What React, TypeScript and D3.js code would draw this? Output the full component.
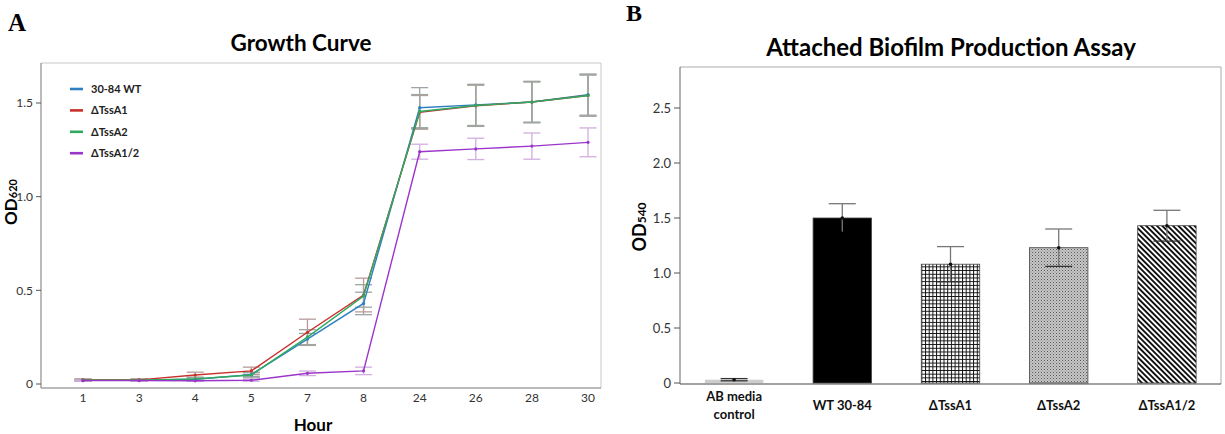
import React from "react";
import * as d3 from "d3";

// ---------- Panel A: growth curve data ----------
const hours = ["1", "3", "4", "5", "7", "8", "24", "26", "28", "30"];
const wt = [0.02, 0.02, 0.025, 0.05, 0.24, 0.43, 1.475, 1.49, 1.505, 1.545];
const wtErr = [0.005, 0.005, 0.008, 0.01, 0.03, 0.06, 0.107, 0.11, 0.107, 0.11];
const tssA1 = [0.022, 0.022, 0.048, 0.07, 0.276, 0.475, 1.45, 1.485, 1.505, 1.54];
const tssA1Err = [0.005, 0.005, 0.015, 0.02, 0.07, 0.09, 0.09, 0.11, 0.11, 0.11];
const tssA2 = [0.02, 0.02, 0.027, 0.048, 0.25, 0.47, 1.455, 1.487, 1.505, 1.54];
const tssA2Err = [0.005, 0.005, 0.01, 0.015, 0.04, 0.06, 0.09, 0.11, 0.11, 0.11];
const tssA12 = [0.018, 0.018, 0.017, 0.02, 0.057, 0.07, 1.24, 1.255, 1.27, 1.29];
const tssA12Err = [0.003, 0.003, 0.003, 0.005, 0.012, 0.02, 0.04, 0.057, 0.07, 0.077];
const growthTicks = [0, 0.5, 1.0, 1.5];
const growthTickLabels = ["0", "0.5", "1.0", "1.5"];

// ---------- Panel B: biofilm data ----------
const bioCats = ["AB media control", "WT 30-84", "ΔTssA1", "ΔTssA2", "ΔTssA1/2"];
const bioVals = [0.03, 1.5, 1.08, 1.23, 1.43];
const bioErr = [0.01, 0.13, 0.16, 0.17, 0.14];
const bioTicks = [0, 0.5, 1.0, 1.5, 2.0, 2.5];
const bioTickLabels = ["0", "0.5", "1.0", "1.5", "2.0", "2.5"];

const series = [
  { name: "30-84 WT", vals: wt, err: wtErr, color: "#2f7fc1", errColor: "#9ea3aa" },
  { name: "ΔTssA1", vals: tssA1, err: tssA1Err, color: "#c9302c", errColor: "#b99a9a" },
  { name: "ΔTssA2", vals: tssA2, err: tssA2Err, color: "#2fa95f", errColor: "#9aa89e" },
  { name: "ΔTssA1/2", vals: tssA12, err: tssA12Err, color: "#9b35c9", errColor: "#d2aede" },
];

const FONT = "Lato, 'Open Sans', sans-serif";

export default function App() {
  // Panel A scales
  const ax = d3.scalePoint<string>().domain(hours).range([83, 588]);
  const ay = d3.scaleLinear().domain([0, 1.5]).range([384, 103]);
  const line = d3
    .line<number>()
    .x((_, i) => ax(hours[i]) as number)
    .y((d) => ay(d));

  // Panel B scales
  const bx = d3.scaleBand<string>().domain(bioCats).range([680, 1221]).paddingInner(0.46).paddingOuter(0.23);
  const by = d3.scaleLinear().domain([0, 2.5]).range([383, 108]);
  const fills = ["#cdcdcd", "#000000", "url(#gridPat)", "url(#dotPat)", "url(#diagPat)"];

  const capA = 8.5;
  const capB = 13.5;

  return (
    <svg
      width={1225}
      height={434}
      style={{ position: "absolute", left: 0, top: 0, background: "#fff" }}
      fontFamily={FONT}
    >
      <defs>
        <pattern id="gridPat" patternUnits="userSpaceOnUse" width={3.7} height={3.7}>
          <rect width={3.7} height={3.7} fill="#fff" />
          <path d="M0 0.5 H3.7 M0.5 0 V3.7" stroke="#111" strokeWidth={1} />
        </pattern>
        <pattern id="dotPat" patternUnits="userSpaceOnUse" width={3} height={3}>
          <rect width={3} height={3} fill="#c8c8c8" />
          <rect x={0} y={0} width={1} height={1} fill="#555" />
          <rect x={1.5} y={1.5} width={1} height={1} fill="#777" />
        </pattern>
        <pattern id="diagPat" patternUnits="userSpaceOnUse" width={3.8} height={3.8} patternTransform="rotate(-45)">
          <rect width={3.8} height={3.8} fill="#fff" />
          <rect x={0} y={0} width={1.9} height={3.8} fill="#111" />
        </pattern>
      </defs>

      {/* ---------------- Panel A ---------------- */}
      <text x={8} y={31} fontFamily="'Liberation Serif', serif" fontWeight="bold" fontSize={25}>
        A
      </text>
      <text x={301} y={51} textAnchor="middle" fontWeight="bold" fontSize={22.5}>
        Growth Curve
      </text>
      {/* frame */}
      <line x1={41} x2={601} y1={63} y2={63} stroke="#c8c8c8" />
      <line x1={601} x2={601} y1={63} y2={388} stroke="#c8c8c8" />
      <line x1={41} x2={41} y1={63} y2={388} stroke="#777" />
      <line x1={41} x2={601} y1={388} y2={388} stroke="#777" />
      {/* y ticks */}
      {growthTicks.map((t, i) => (
        <g key={"at" + i}>
          <line x1={36} x2={41} y1={ay(t)} y2={ay(t)} stroke="#555" />
          <text x={33} y={ay(t)} dy="0.35em" textAnchor="end" fontSize={12} fill="#333">
            {growthTickLabels[i]}
          </text>
        </g>
      ))}
      {/* x ticks */}
      {hours.map((h) => (
        <text key={"ax" + h} x={ax(h)} y={402} textAnchor="middle" fontSize={12} fill="#333">
          {h}
        </text>
      ))}
      <text x={313} y={431} textAnchor="middle" fontWeight="bold" fontSize={17}>
        Hour
      </text>
      <text transform="translate(17,202) rotate(-90)" textAnchor="middle" fontWeight="bold" fontSize={17}>
        OD<tspan fontSize={11}>620</tspan>
      </text>
      {/* error bars */}
      {series.map((s) =>
        s.vals.map((v, i) => {
          const x = ax(hours[i]) as number;
          const y1 = ay(v + s.err[i]);
          const y2 = ay(v - s.err[i]);
          return (
            <g key={s.name + "e" + i} stroke={s.errColor} strokeWidth={1.3}>
              <line x1={x} x2={x} y1={y1} y2={y2} />
              <line x1={x - capA} x2={x + capA} y1={y1} y2={y1} />
              <line x1={x - capA} x2={x + capA} y1={y2} y2={y2} />
            </g>
          );
        })
      )}
      {/* lines */}
      {series.map((s) => (
        <g key={s.name + "l"}>
          <path d={line(s.vals) as string} fill="none" stroke={s.color} strokeWidth={1.4} />
          {s.vals.map((v, i) => (
            <circle key={i} cx={ax(hours[i])} cy={ay(v)} r={1.6} fill={s.color} />
          ))}
        </g>
      ))}
      {/* legend */}
      {series.map((s, i) => {
        const y = 89 + i * 21.4;
        return (
          <g key={s.name + "lg"}>
            <line x1={70} x2={83} y1={y} y2={y} stroke={s.color} strokeWidth={2.6} />
            <text x={91} y={y} dy="0.35em" fontWeight="bold" fontSize={11} fill="#222">
              {s.name}
            </text>
          </g>
        );
      })}

      {/* ---------------- Panel B ---------------- */}
      <text x={626} y={21} fontFamily="'Liberation Serif', serif" fontWeight="bold" fontSize={24}>
        B
      </text>
      <text x={951} y={56} textAnchor="middle" fontWeight="bold" fontSize={24}>
        Attached Biofilm Production Assay
      </text>
      <line x1={680} x2={1221} y1={67} y2={67} stroke="#aaa" />
      <line x1={1221} x2={1221} y1={67} y2={384} stroke="#aaa" />
      <line x1={680} x2={680} y1={67} y2={384} stroke="#666" />
      {bioTicks.map((t, i) => (
        <g key={"bt" + i}>
          <line x1={674} x2={680} y1={by(t)} y2={by(t)} stroke="#555" />
          <text x={671} y={by(t)} dy="0.35em" textAnchor="end" fontSize={13} fill="#333">
            {bioTickLabels[i]}
          </text>
        </g>
      ))}
      <text transform="translate(646,227) rotate(-90)" textAnchor="middle" fontWeight="bold" fontSize={18}>
        OD<tspan fontSize={12}>540</tspan>
      </text>
      {bioCats.map((c, i) => {
        const x = bx(c) as number;
        const w = bx.bandwidth();
        const cx = x + w / 2;
        const yTop = by(bioVals[i]);
        const y1 = by(bioVals[i] + bioErr[i]);
        const y2 = by(bioVals[i] - bioErr[i]);
        return (
          <g key={"bar" + i}>
            <rect
              x={x}
              y={yTop}
              width={w}
              height={by(0) - yTop}
              fill={fills[i]}
              stroke={i === 0 ? "none" : "#444"}
              strokeWidth={0.8}
            />
            <g stroke={i === 0 ? "#333" : "#777"} strokeWidth={1.3}>
              <line x1={cx} x2={cx} y1={y1} y2={y2} />
              <line x1={cx - capB} x2={cx + capB} y1={y1} y2={y1} />
              <line x1={cx - capB} x2={cx + capB} y1={y2} y2={y2} stroke={i === 1 ? "#000" : "#333"} />
            </g>
            <circle cx={cx} cy={yTop} r={1.8} fill="#111" />
          </g>
        );
      })}
      <line x1={680} x2={1221} y1={384} y2={384} stroke="#444" strokeWidth={1.2} />
      {bioCats.map((c, i) => {
        const cx = (bx(c) as number) + bx.bandwidth() / 2;
        if (i === 0) {
          return (
            <text key={"bl" + i} x={cx} textAnchor="middle" fontWeight="bold" fontSize={13} fill="#111">
              <tspan x={cx} y={401}>AB media</tspan>
              <tspan x={cx} y={419}>control</tspan>
            </text>
          );
        }
        return (
          <text key={"bl" + i} x={cx} y={410} textAnchor="middle" fontWeight="bold" fontSize={13} fill="#111">
            {c}
          </text>
        );
      })}
    </svg>
  );
}
